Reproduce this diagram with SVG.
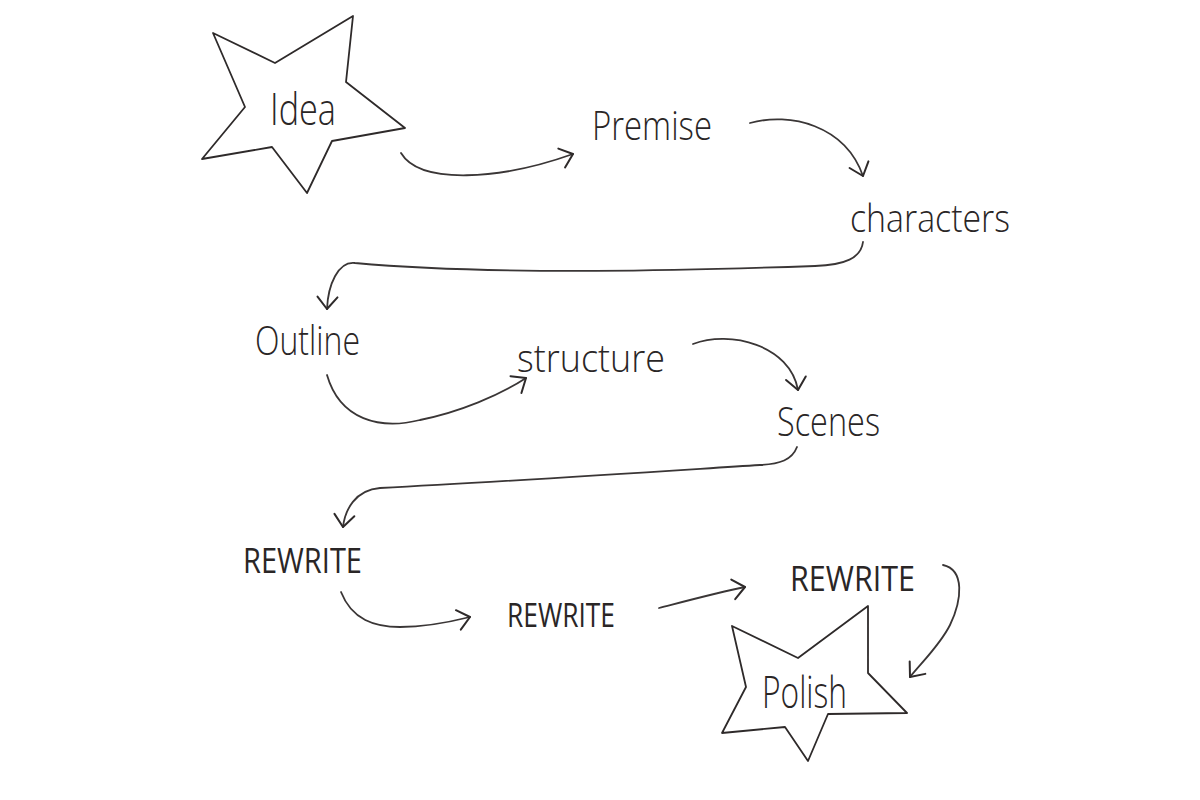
<svg xmlns="http://www.w3.org/2000/svg" width="1200" height="800" viewBox="0 0 1200 800">
<style>
.bg{fill:#ffffff}
.star{fill:none;stroke:#2e2a2a;stroke-width:1.8;stroke-linejoin:round}
.lbl{font-family:"Open Sans","DejaVu Sans",sans-serif;font-weight:300;fill:#2a2626}
.caps{font-family:"Open Sans","DejaVu Sans",sans-serif;font-weight:400;fill:#2a2626}
.con{fill:none;stroke:#3a3636;stroke-width:1.8;stroke-linecap:round;marker-end:url(#ah)}
</style>
<defs>
<marker id="ah" viewBox="0 0 16 24" refX="14" refY="12" markerWidth="16" markerHeight="24" markerUnits="userSpaceOnUse" orient="auto">
<path d="M2,2 L14,12 L2,22" fill="none" stroke="#2e2a2a" stroke-width="2" stroke-linecap="round" stroke-linejoin="round"/>
</marker>
</defs>
<rect class="bg" x="0" y="0" width="1200" height="800"/>
<g id="connectors">
<path class="con" d="M401,153 C420,185 500,180 573,154"/>
<path class="con" d="M750,123 C790,112 845,125 863,176"/>
<path class="con" d="M863,242 C861,258 845,265 815,266 C700,270 500,276 355,263 C338,261 328,285 327,309"/>
<path class="con" d="M327,375 C340,420 380,430 420,420 C460,412 500,395 526,378"/>
<path class="con" d="M693,344 C730,330 790,345 798,390"/>
<path class="con" d="M797,447 C792,460 780,464 760,465 C650,472 500,482 380,488 C355,490 345,510 343,527"/>
<path class="con" d="M341,592 C352,620 375,627 400,627 C425,627 450,622 470,617"/>
<path class="con" d="M659,608 C690,600 720,592 745,587"/>
<path class="con" d="M943,565 C965,570 962,600 950,625 C940,645 922,662 910,677"/>
</g>
<g id="idea">
<polygon class="star" points="213,33 275,63 353,16 346,82 405,128 332,141 307,193 272,147 202,159 245,107"/>
<text class="lbl" x="270" y="125" font-size="44" textLength="66" lengthAdjust="spacingAndGlyphs">Idea</text>
</g>
<g id="premise">
<text class="lbl" x="592" y="140" font-size="40" textLength="120" lengthAdjust="spacingAndGlyphs">Premise</text>
</g>
<g id="characters">
<text class="lbl" x="850" y="232" font-size="38" textLength="160" lengthAdjust="spacingAndGlyphs">characters</text>
</g>
<g id="outline">
<text class="lbl" x="255" y="355" font-size="40" textLength="105" lengthAdjust="spacingAndGlyphs">Outline</text>
</g>
<g id="structure">
<text class="lbl" x="517" y="372" font-size="38" textLength="148" lengthAdjust="spacingAndGlyphs">structure</text>
</g>
<g id="scenes">
<text class="lbl" x="777" y="436" font-size="40" textLength="103" lengthAdjust="spacingAndGlyphs">Scenes</text>
</g>
<g id="rewrite1">
<text class="caps" x="243" y="573" font-size="34" textLength="119" lengthAdjust="spacingAndGlyphs">REWRITE</text>
</g>
<g id="rewrite2">
<text class="caps" x="507" y="627" font-size="32" textLength="108" lengthAdjust="spacingAndGlyphs">REWRITE</text>
</g>
<g id="rewrite3">
<text class="caps" x="790" y="591" font-size="34" textLength="125" lengthAdjust="spacingAndGlyphs">REWRITE</text>
</g>
<g id="polish">
<polygon class="star" points="732,626 798,658 868,606 868,673 907,713 828,714 808,761 785,727 722,733 746,687"/>
<text class="lbl" x="762" y="708" font-size="44" textLength="85" lengthAdjust="spacingAndGlyphs">Polish</text>
</g>
</svg>
